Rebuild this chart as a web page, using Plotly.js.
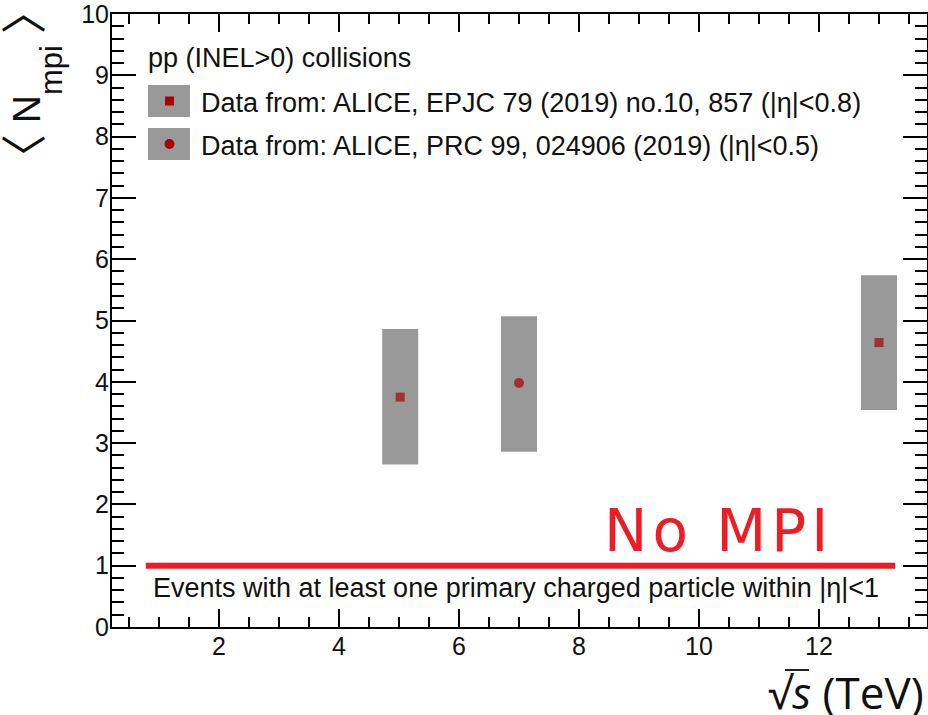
<!DOCTYPE html>
<html>
<head>
<meta charset="utf-8">
<script src="https://cdn.plot.ly/plotly-3.0.1.min.js"></script>
<style>html,body{margin:0;padding:0;background:#fff;}#chart{width:928px;height:715px;}</style>
</head>
<body>
<div id="chart"></div>
<script>
// ---- data ----
var energies = [5.02, 7.0, 13.0];            // sqrt(s) in TeV
var nmpi = [3.75, 3.98, 4.64];                // <N_mpi>
var sysLow = [2.65, 2.86, 3.54];              // lower edge of uncertainty band
var sysHigh = [4.86, 5.07, 5.74];             // upper edge of uncertainty band
var markerShapes = ['square', 'circle', 'square'];
var noMpiX = [0.78, 13.27];
var noMpiY = [1, 1];
var legendLabels = [
  'Data from: ALICE, EPJC 79 (2019) no.10, 857 (|η|<0.8)',
  'Data from: ALICE, PRC 99, 024906 (2019) (|η|<0.5)'
];

// ---- layout geometry ----
var W = 928, H = 715;
var M = {l: 112, r: 1, t: 14, b: 88};
var PW = W - M.l - M.r, PH = H - M.t - M.b;
function px(x) { return (x - M.l) / PW; }
function py(y) { return (H - M.b - y) / PH; }

var FONT = 'Liberation Sans, Arial, sans-serif';
var CJK = 'Noto Sans CJK SC';
var GRAY = '#999999';
var DRED = '#aa0000';
var TXT = 27;

var bandWidth = 0.6;
var traces = [
  {
    type: 'bar', x: energies,
    base: sysLow,
    y: sysHigh.map(function (h, i) { return h - sysLow[i]; }),
    width: energies.map(function () { return bandWidth; }),
    marker: {color: GRAY, line: {width: 0}},
    hoverinfo: 'skip', showlegend: false
  },
  {
    type: 'scatter', mode: 'markers', x: energies, y: nmpi,
    marker: {color: DRED, symbol: markerShapes, line: {width: 0},
      size: markerShapes.map(function (s) { return s === 'circle' ? 10 : 9; })},
    showlegend: false
  },
  {
    type: 'scatter', mode: 'lines', x: noMpiX, y: noMpiY,
    line: {color: '#ee1c25', width: 6}, showlegend: false
  }
];

var shapes = [];
// legend boxes
[[85, 117], [128, 160]].forEach(function (b) {
  shapes.push({type: 'rect', xref: 'paper', yref: 'paper', x0: px(148), x1: px(190), y0: py(b[1]), y1: py(b[0]),
    fillcolor: GRAY, line: {width: 0}, layer: 'above'});
});
shapes.push({type: 'rect', xref: 'paper', yref: 'paper', x0: px(165), x1: px(174), y0: py(105.5), y1: py(96.5),
  fillcolor: DRED, line: {width: 0}, layer: 'above'});
shapes.push({type: 'circle', xref: 'paper', yref: 'paper', x0: px(164.5), x1: px(174.5), y0: py(149), y1: py(139),
  fillcolor: DRED, line: {width: 0}, layer: 'above'});
// sqrt overbar
shapes.push({type: 'line', xref: 'paper', yref: 'paper', x0: px(785), x1: px(809), y0: py(670), y1: py(670),
  line: {color: '#222', width: 2}});

var annotations = [
  {xref: 'paper', yref: 'paper', x: px(146), y: py(58), xanchor: 'left', yanchor: 'middle', showarrow: false,
    text: 'pp (INEL>0) collisions', font: {family: FONT, size: TXT, color: '#111'}},
  {xref: 'paper', yref: 'paper', x: px(199), y: py(103), xanchor: 'left', yanchor: 'middle', showarrow: false,
    text: legendLabels[0], font: {family: FONT, size: TXT, color: '#111'}},
  {xref: 'paper', yref: 'paper', x: px(199), y: py(146), xanchor: 'left', yanchor: 'middle', showarrow: false,
    text: legendLabels[1], font: {family: FONT, size: TXT, color: '#111'}},
  {xref: 'paper', yref: 'paper', x: px(151), y: py(588), xanchor: 'left', yanchor: 'middle', showarrow: false,
    text: 'Events with at least one primary charged particle within |η|<1', font: {family: FONT, size: TXT, color: '#111'}},
  {xref: 'paper', yref: 'paper', x: px(718), y: py(531), xanchor: 'center', yanchor: 'middle', showarrow: false,
    text: '<span style="letter-spacing:5px">No MPI</span>', font: {family: 'DejaVu Sans, sans-serif', size: 58, color: '#ee1c25'}},
  {xref: 'paper', yref: 'paper', x: px(28), y: py(84), xanchor: 'center', yanchor: 'middle', showarrow: false, textangle: -90,
    text: '<span style="font-family:' + CJK + ';font-size:46px">〈</span> N' +
          '<span style="font-size:31px;baseline-shift:-22px">mpi</span>' +
          ' <span style="font-family:' + CJK + ';font-size:46px">〉</span>',
    font: {family: FONT, size: 39, color: '#111'}},
  {xref: 'paper', yref: 'paper', x: px(926), y: py(692), xanchor: 'right', yanchor: 'middle', showarrow: false,
    text: '√<i>s</i> (TeV)', font: {family: 'Open Sans, sans-serif', size: 44, color: '#111'}}
];

var axisCommon = {
  showgrid: false, zeroline: false, showline: true, linecolor: '#000', linewidth: 2,
  ticks: 'inside', tickcolor: '#000', tickwidth: 2, mirror: 'allticks',
  ticklabeloverflow: 'allow', ticklabelstandoff: -4,
  tickfont: {family: FONT, size: 25, color: '#111'}
};

var layout = {
  width: W, height: H, margin: M,
  paper_bgcolor: '#fff', plot_bgcolor: '#fff',
  showlegend: false,
  xaxis: Object.assign({}, axisCommon, {
    range: [0.2167, 13.8], dtick: 2, tick0: 0, ticklen: 18,
    minor: {dtick: 0.5, tick0: 0, ticklen: 10, tickwidth: 2, tickcolor: '#000', ticks: 'inside'}
  }),
  yaxis: Object.assign({}, axisCommon, {
    range: [0, 10], dtick: 1, tick0: 0, ticklen: 24,
    minor: {dtick: 0.2, tick0: 0, ticklen: 12, tickwidth: 2, tickcolor: '#000', ticks: 'inside'}
  }),
  shapes: shapes,
  annotations: annotations
};

Plotly.newPlot('chart', traces, layout, {displayModeBar: false, staticPlot: true});
</script>
</body>
</html>
